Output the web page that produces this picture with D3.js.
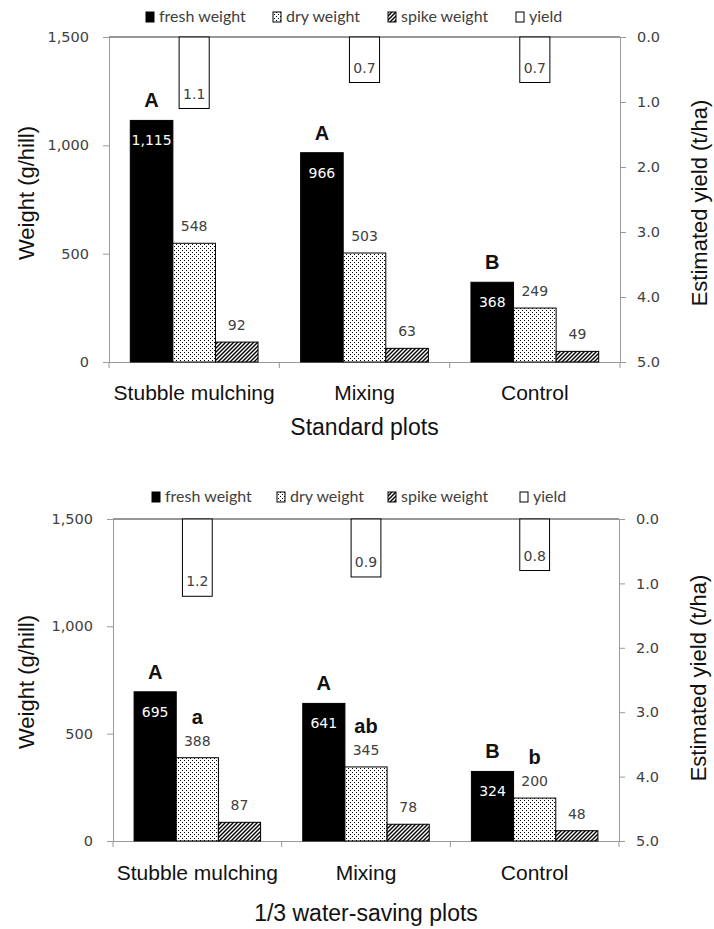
<!DOCTYPE html>
<html><head><meta charset="utf-8">
<script src="https://cdn.jsdelivr.net/npm/d3@7"></script>
<style>body{margin:0;background:#fff}svg{display:block}</style>
</head><body>
<script>
// ---- data ----
const categories = ["Stubble mulching", "Mixing", "Control"];
const seriesNames = ["fresh weight", "dry weight", "spike weight", "yield"];
const weightTicks = [0, 500, 1000, 1500];
const yieldTicks = [0, 1, 2, 3, 4, 5];

const stdFresh = [1115, 966, 368];
const stdDry = [548, 503, 249];
const stdSpike = [92, 63, 49];
const stdYield = [1.1, 0.7, 0.7];
const stdFreshLetters = ["A", "A", "B"];
const stdDryLetters = ["", "", ""];

const wsFresh = [695, 641, 324];
const wsDry = [388, 345, 200];
const wsSpike = [87, 78, 48];
const wsYield = [1.2, 0.9, 0.8];
const wsFreshLetters = ["A", "A", "B"];
const wsDryLetters = ["a", "ab", "b"];

const panelTitles = ["Standard plots", "1/3 water-saving plots"];
const weightTitle = "Weight (g/hill)";
const yieldTitle = "Estimated yield (t/ha)";

// ---- layout ----
const W = 714, H = 929;
const panels = [
  {fresh: stdFresh, dry: stdDry, spike: stdSpike, yld: stdYield, up: stdFreshLetters, low: stdDryLetters, title: panelTitles[0],
   L: 109, R: 620, T: 37, B: 362, legendY: 17, legendX: [146, 273, 388, 516], catY: 400, titleY: 435,
   lt: [34, 193], rt: [707, 203]},
  {fresh: wsFresh, dry: wsDry, spike: wsSpike, yld: wsYield, up: wsFreshLetters, low: wsDryLetters, title: panelTitles[1],
   L: 113, R: 619, T: 519, B: 841, legendY: 497, legendX: [152, 277, 388, 520], catY: 880, titleY: 921,
   lt: [34, 682], rt: [706, 678]}
];

const svg = d3.select("body").append("svg").attr("width", W).attr("height", H);
const defs = svg.append("defs");
const dots = defs.append("pattern").attr("id", "dots").attr("width", 4).attr("height", 4).attr("patternUnits", "userSpaceOnUse");
dots.append("rect").attr("width", 4).attr("height", 4).attr("fill", "#fff");
dots.append("rect").attr("x", 0).attr("y", 0).attr("width", 1).attr("height", 1).attr("fill", "#000");
dots.append("rect").attr("x", 2).attr("y", 2).attr("width", 1).attr("height", 1).attr("fill", "#000");
const stripes = defs.append("pattern").attr("id", "stripes").attr("width", 4).attr("height", 4).attr("patternUnits", "userSpaceOnUse");
stripes.append("rect").attr("width", 4).attr("height", 4).attr("fill", "#fff");
stripes.append("path").attr("d", "M-1,1 l2,-2 M0,4 l4,-4 M3,5 l2,-2").attr("stroke", "#000").attr("stroke-width", 1.4);

const fills = ["#000", "url(#dots)", "url(#stripes)", "#fff"];
const numFont = "'DejaVu Sans', Verdana, sans-serif";
const arial = "'Liberation Sans', Arial, sans-serif";
const textCol = "#404040";

panels.forEach(p => {
  const g = svg.append("g");
  const x = d3.scaleBand().domain(categories).range([p.L, p.R]).padding(0);
  const xs = d3.scaleBand().domain(seriesNames.slice(0, 3)).range([0, x.bandwidth()]).paddingInner(0).paddingOuter(0.5);
  const xy = d3.scaleBand().domain(["yield"]).range([0, x.bandwidth()]).paddingOuter(2.33);
  const y = d3.scaleLinear().domain([0, 1500]).range([p.B, p.T]);
  const y2 = d3.scaleLinear().domain([0, 5]).range([p.T, p.B]);

  // top border line
  g.append("line").attr("x1", p.L).attr("x2", p.R).attr("y1", p.T).attr("y2", p.T).attr("stroke", "#333").attr("stroke-width", 1.2);

  // left axis
  const la = g.append("g").attr("transform", `translate(${p.L},0)`)
    .call(d3.axisLeft(y).tickValues(weightTicks).tickFormat(d3.format(",")).tickSize(6).tickPadding(14));
  la.select(".domain").attr("stroke", "#999");
  la.selectAll(".tick line").attr("stroke", "#999");
  la.selectAll("text").attr("font-family", numFont).attr("font-size", 14.5).attr("fill", textCol);

  // right axis
  const ra = g.append("g").attr("transform", `translate(${p.R},0)`)
    .call(d3.axisRight(y2).tickValues(yieldTicks).tickFormat(d3.format(".1f")).tickSize(6).tickPadding(11));
  ra.select(".domain").attr("stroke", "#999");
  ra.selectAll(".tick line").attr("stroke", "#999");
  ra.selectAll("text").attr("font-family", numFont).attr("font-size", 14.5).attr("fill", textCol);

  // bottom axis
  const ba = g.append("g").attr("transform", `translate(0,${p.B})`)
    .call(d3.axisBottom(x).tickSize(0).tickFormat(""));
  ba.select(".domain").attr("stroke", "#999");
  const bounds = categories.map(c => x(c)).concat([x(categories[categories.length - 1]) + x.bandwidth()]);
  g.selectAll(".btick").data(bounds).join("line")
    .attr("x1", d => d).attr("x2", d => d).attr("y1", p.B).attr("y2", p.B + 6).attr("stroke", "#999");

  // weight bars
  const seriesVals = [p.fresh, p.dry, p.spike];
  seriesVals.forEach((vals, si) => {
    g.selectAll(null).data(vals).join("rect")
      .attr("x", (d, i) => x(categories[i]) + xs(seriesNames[si]))
      .attr("width", xs.bandwidth())
      .attr("y", d => y(d))
      .attr("height", d => y(0) - y(d))
      .attr("fill", fills[si])
      .attr("stroke", "#000").attr("stroke-width", 1);
  });

  // yield bars
  g.selectAll(null).data(p.yld).join("rect")
    .attr("x", (d, i) => x(categories[i]) + xy("yield"))
    .attr("width", xy.bandwidth())
    .attr("y", y2(0))
    .attr("height", d => y2(d) - y2(0))
    .attr("fill", "#fff").attr("stroke", "#000").attr("stroke-width", 1);
  g.selectAll(null).data(p.yld).join("text")
    .attr("x", (d, i) => x(categories[i]) + xy("yield") + xy.bandwidth() / 2)
    .attr("y", d => y2(d) - 10)
    .attr("text-anchor", "middle").attr("font-family", numFont).attr("font-size", 14).attr("fill", textCol)
    .text(d3.format(".1f"));

  // value labels
  g.selectAll(null).data(p.fresh).join("text")
    .attr("x", (d, i) => x(categories[i]) + xs(seriesNames[0]) + xs.bandwidth() / 2)
    .attr("y", d => y(d) + 25)
    .attr("text-anchor", "middle").attr("font-family", numFont).attr("font-size", 14).attr("fill", "#fff")
    .text(d3.format(","));
  [p.dry, p.spike].forEach((vals, k) => {
    g.selectAll(null).data(vals).join("text")
      .attr("x", (d, i) => x(categories[i]) + xs(seriesNames[k + 1]) + xs.bandwidth() / 2)
      .attr("y", d => y(d) - 12)
      .attr("text-anchor", "middle").attr("font-family", numFont).attr("font-size", 14).attr("fill", textCol)
      .text(d3.format(","));
  });

  // significance letters
  g.selectAll(null).data(p.up).join("text")
    .attr("x", (d, i) => x(categories[i]) + xs(seriesNames[0]) + xs.bandwidth() / 2)
    .attr("y", (d, i) => y(p.fresh[i]) - 13)
    .attr("text-anchor", "middle").attr("font-family", arial).attr("font-weight", "bold").attr("font-size", 20).attr("fill", "#111")
    .text(d => d);
  g.selectAll(null).data(p.low).join("text")
    .attr("x", (d, i) => x(categories[i]) + xs(seriesNames[1]) + xs.bandwidth() / 2)
    .attr("y", (d, i) => y(p.dry[i]) - 34)
    .attr("text-anchor", "middle").attr("font-family", arial).attr("font-weight", "bold").attr("font-size", 20).attr("fill", "#111")
    .text(d => d);

  // category labels
  g.selectAll(null).data(categories).join("text")
    .attr("x", d => x(d) + x.bandwidth() / 2).attr("y", p.catY)
    .attr("text-anchor", "middle").attr("font-family", arial).attr("font-size", 21).attr("fill", "#111")
    .text(d => d);
  // panel title
  g.append("text").attr("x", (p.L + p.R) / 2).attr("y", p.titleY)
    .attr("text-anchor", "middle").attr("font-family", arial).attr("font-size", 23).attr("fill", "#111")
    .text(p.title);
  // axis titles
  g.append("text").attr("transform", `translate(${p.lt[0]},${p.lt[1]}) rotate(-90)`)
    .attr("text-anchor", "middle").attr("font-family", arial).attr("font-size", 22).attr("fill", "#111").text(weightTitle);
  g.append("text").attr("transform", `translate(${p.rt[0]},${p.rt[1]}) rotate(-90)`)
    .attr("text-anchor", "middle").attr("font-family", arial).attr("font-size", 22).attr("fill", "#111").text(yieldTitle);

  // legend
  const lg = g.append("g");
  seriesNames.forEach((s, i) => {
    lg.append("rect").attr("x", p.legendX[i]).attr("y", p.legendY - 5).attr("width", 8).attr("height", 10)
      .attr("fill", fills[i]).attr("stroke", "#000").attr("stroke-width", 1);
    lg.append("text").attr("x", p.legendX[i] + 13).attr("y", p.legendY + 5)
      .attr("font-family", "Lato, 'Open Sans', sans-serif").attr("font-size", 16).attr("fill", textCol).text(s);
  });
});
</script>
</body></html>
